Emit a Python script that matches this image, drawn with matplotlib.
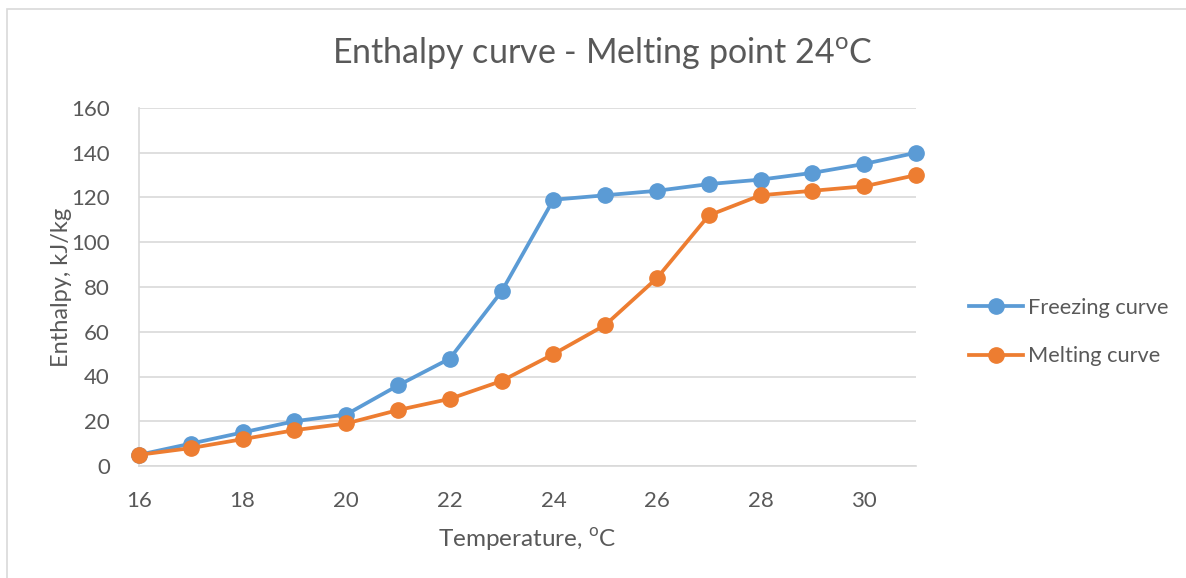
import matplotlib
matplotlib.use("Agg")
import matplotlib.pyplot as plt
from matplotlib.patches import Rectangle

temperature = [16, 17, 18, 19, 20, 21, 22, 23, 24, 25, 26, 27, 28, 29, 30, 31]
freezing = [5, 10, 15, 20, 23, 36, 48, 78, 119, 121, 123, 126, 128, 131, 135, 140]
melting = [5, 8, 12, 16, 19, 25, 30, 38, 50, 63, 84, 112, 121, 123, 125, 130]
x_ticks = [16, 18, 20, 22, 24, 26, 28, 30]
y_ticks = [0, 20, 40, 60, 80, 100, 120, 140, 160]

plt.rcParams['font.family'] = ['Lato', 'DejaVu Sans']
text_color = '#595959'
grid_color = '#D9D9D9'

fig = plt.figure(figsize=(11.86, 5.78), dpi=100)
ax = fig.add_axes([139/1186, 1-466/578, (916-139)/1186, (466-108)/578])

ax.plot(temperature, freezing, color='#5B9BD5', lw=2.7, marker='o', ms=11,
        label='Freezing curve', clip_on=False, zorder=3)
ax.plot(temperature, melting, color='#ED7D31', lw=2.7, marker='o', ms=11,
        label='Melting curve', clip_on=False, zorder=4)

ax.set_xlim(16, 31)
ax.set_ylim(0, 160)
ax.set_xticks(x_ticks)
ax.set_yticks(y_ticks)
ax.tick_params(length=0, labelsize=16, colors=text_color)
ax.tick_params(axis='y', pad=21)
ax.tick_params(axis='x', pad=18)
ax.grid(axis='y', color=grid_color, lw=1.2)
ax.set_axisbelow(True)
for s in ['top', 'right']:
    ax.spines[s].set_visible(False)
for s in ['left', 'bottom']:
    ax.spines[s].set_color(grid_color)
    ax.spines[s].set_linewidth(1.2)

ax.set_xlabel('Temperature, $^{\\mathregular{o}}$C', fontsize=17.5, color=text_color, labelpad=11)
ax.set_ylabel('Enthalpy, kJ/kg', fontsize=17, color=text_color, labelpad=-1)

fig.text(602/1186, 1-53/578, 'Enthalpy curve - Melting point 24$^{\\mathregular{o}}$C',
         ha='center', va='center', fontsize=24.5, color=text_color)

leg = fig.legend(loc='center left', bbox_to_anchor=(949/1186, 1-332/578),
                 frameon=False, fontsize=15.7, labelcolor=text_color,
                 handlelength=2.5, handletextpad=0.2, labelspacing=1.3)

fig.patches.append(Rectangle((7/1186, -0.1), 1.2, 1-9/578+0.1, transform=fig.transFigure,
                             fill=False, edgecolor=grid_color, lw=1.2, zorder=0))

fig.savefig('out.png', dpi=100)
